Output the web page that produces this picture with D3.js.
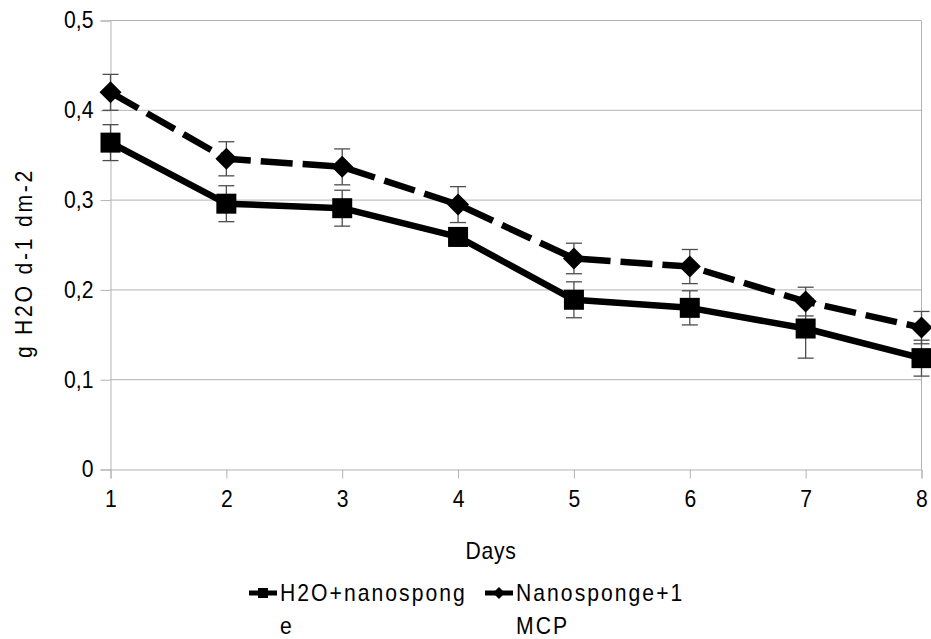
<!DOCTYPE html>
<html>
<head>
<meta charset="utf-8">
<script src="https://cdn.jsdelivr.net/npm/d3@7"></script>
<style>
  html, body { margin: 0; padding: 0; background: #fff; }
  svg { display: block; font-family: "Liberation Sans", Arial, sans-serif; }
</style>
</head>
<body>
<svg id="chart" width="931" height="639"></svg>
<script>
// ---- data ----
const days = [1, 2, 3, 4, 5, 6, 7, 8];
const nanoValues = [0.364, 0.296, 0.291, 0.259, 0.189, 0.180, 0.157, 0.124];
const nanoErrors = [0.020, 0.020, 0.020, 0.010, 0.020, 0.019, 0.033, 0.020];
const mcpValues  = [0.420, 0.346, 0.337, 0.295, 0.235, 0.226, 0.187, 0.158];
const mcpErrors  = [0.020, 0.019, 0.020, 0.020, 0.017, 0.019, 0.016, 0.018];
const yTicks = [0, 0.1, 0.2, 0.3, 0.4, 0.5];
const yTickLabels = ["0", "0,1", "0,2", "0,3", "0,4", "0,5"];
const seriesNames = [["H2O+nanospong", "e"], ["Nanosponge+1", "MCP"]];
const xTitle = "Days";
const yTitle = "g H2O d-1 dm-2";

const FONT = "Liberation Sans, Arial, sans-serif";
const FS = 23;
const SX = 0.92; // slight horizontal condensation of the text

const svg = d3.select("#chart");
const x = d3.scaleLinear().domain([1, 8]).range([110.5, 921.5]);
const y = d3.scaleLinear().domain([0, 0.5]).range([469.5, 20.5]);
const grid = "#b3b3b3";

// gridlines
svg.append("g").selectAll("line").data(yTicks.slice(1)).join("line")
  .attr("x1", x(1)).attr("x2", x(8))
  .attr("y1", d => y(d)).attr("y2", d => y(d))
  .attr("stroke", grid).attr("stroke-width", 1);
// right border
svg.append("line").attr("x1", x(8)).attr("x2", x(8)).attr("y1", y(0.5)).attr("y2", y(0))
  .attr("stroke", grid);

// y axis
const yAxis = d3.axisLeft(y).tickValues(yTicks).tickSize(10).tickPadding(7)
  .tickFormat((d, i) => yTickLabels[i]);
const gy = svg.append("g").attr("transform", `translate(${x(1)},0)`).call(yAxis);
gy.attr("font-size", FS).attr("font-family", FONT);
gy.select(".domain").attr("stroke", grid);
gy.selectAll(".tick line").attr("stroke", grid);
gy.selectAll(".tick text").attr("fill", "#000")
  .attr("x", -17 / SX).attr("transform", `scale(${SX},1)`);

// x axis
const xAxis = d3.axisBottom(x).tickValues(days).tickSize(9).tickPadding(12)
  .tickFormat(d3.format("d"));
const gx = svg.append("g").attr("transform", `translate(0,${y(0)})`).call(xAxis);
gx.attr("font-size", FS).attr("font-family", FONT);
gx.select(".domain").attr("stroke", grid);
gx.selectAll(".tick line").attr("stroke", grid);
gx.selectAll(".tick text").attr("fill", "#000").attr("transform", `scale(${SX},1)`);

// titles
svg.append("text").attr("transform", `translate(491,559) scale(${SX},1)`)
  .attr("text-anchor", "middle").attr("font-size", FS).attr("letter-spacing", 0.8).text(xTitle);
svg.append("text").attr("transform", `translate(32,263) rotate(-90) scale(${SX},1)`)
  .attr("text-anchor", "middle").attr("font-size", FS).attr("letter-spacing", 3).text(yTitle);

// series
const series = [
  { vals: nanoValues, errs: nanoErrors, dash: null, shape: "square" },
  { vals: mcpValues, errs: mcpErrors, dash: "32,10", shape: "diamond" }
];

// error bars
series.forEach(s => {
  const g = svg.append("g").attr("stroke", "#4d4d4d").attr("stroke-width", 1.3);
  days.forEach((d, i) => {
    const cx = x(d), top = y(s.vals[i] + s.errs[i]), bot = y(s.vals[i] - s.errs[i]);
    g.append("line").attr("x1", cx).attr("x2", cx).attr("y1", top).attr("y2", bot);
    g.append("line").attr("x1", cx - 8).attr("x2", cx + 8).attr("y1", top).attr("y2", top);
    g.append("line").attr("x1", cx - 8).attr("x2", cx + 8).attr("y1", bot).attr("y2", bot);
  });
});

const line = d3.line().x((d, i) => x(days[i])).y(d => y(d));
series.forEach(s => {
  const p = svg.append("path").datum(s.vals).attr("d", line)
    .attr("fill", "none").attr("stroke", "#000").attr("stroke-width", 6.5)
    .attr("stroke-linejoin", "round");
  if (s.dash) p.attr("stroke-dasharray", s.dash);
});

function marker(g, shape, cx, cy, r) {
  if (shape === "square") {
    g.append("rect").attr("x", cx - r).attr("y", cy - r).attr("width", 2 * r).attr("height", 2 * r)
      .attr("fill", "#000");
  } else {
    g.append("path").attr("d", `M${cx},${cy - r}L${cx + r},${cy}L${cx},${cy + r}L${cx - r},${cy}Z`)
      .attr("fill", "#000");
  }
}
series.forEach(s => {
  const g = svg.append("g");
  days.forEach((d, i) => marker(g, s.shape, x(d), y(s.vals[i]), s.shape === "square" ? 10 : 11));
});

// legend
const legendX = [249, 485];
series.forEach((s, k) => {
  const lx = legendX[k], ly = 593;
  svg.append("line").attr("x1", lx).attr("x2", lx + 28).attr("y1", ly).attr("y2", ly)
    .attr("stroke", "#000").attr("stroke-width", 5);
  marker(svg, s.shape, lx + 14, ly, s.shape === "square" ? 5 : 6);
  const t = svg.append("text").attr("transform", `translate(${lx + 31},0) scale(${SX},1)`)
    .attr("font-size", FS).attr("letter-spacing", 2.2);
  seriesNames[k].forEach((ln, j) => {
    t.append("tspan").attr("x", 0).attr("y", 601 + j * 33).text(ln);
  });
});
</script>
</body>
</html>
